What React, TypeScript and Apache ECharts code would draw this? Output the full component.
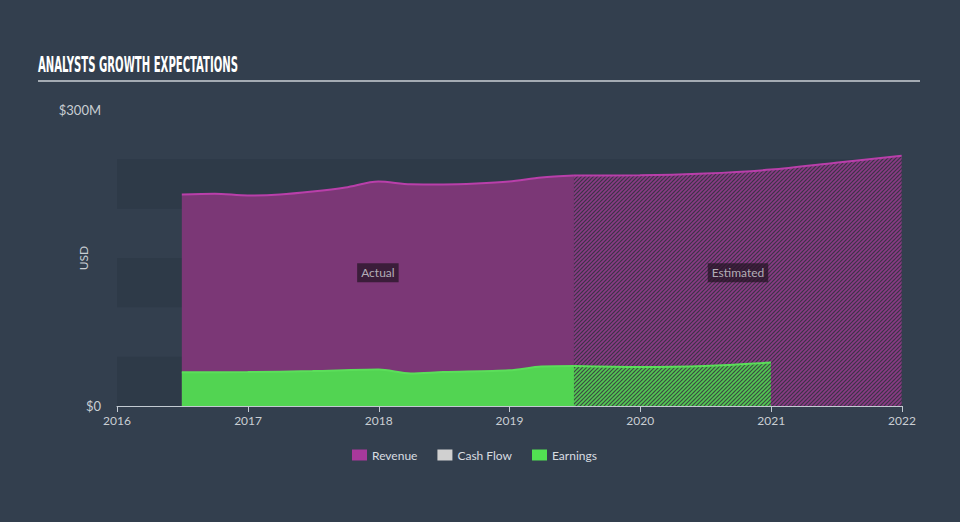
import React, { useEffect, useRef } from "react";
import * as echarts from "echarts";

const legendNames = ["Revenue", "Cash Flow", "Earnings"];

const revenueActualDates = ["2016-06-30", "2016-09-30", "2016-12-31", "2017-03-31", "2017-06-30", "2017-09-30", "2017-12-31", "2018-03-31", "2018-06-30", "2018-09-30", "2018-12-31", "2019-03-31", "2019-06-30"];
const revenueActualValues = [214.4, 215.2, 213.4, 214.4, 217.4, 221.5, 227.5, 224.8, 224.6, 225.5, 227.5, 231.5, 233.6];

const revenueEstDates = ["2019-06-30", "2019-12-31", "2020-06-30", "2020-12-31", "2021-06-30", "2021-12-31"];
const revenueEstValues = [233.6, 233.8, 235.6, 239.6, 246.6, 253.7];

const earningsActualDates = ["2016-06-30", "2016-12-31", "2017-06-30", "2017-12-31", "2018-03-31", "2018-06-30", "2018-12-31", "2019-03-31", "2019-06-30"];
const earningsActualValues = [34.2, 34.4, 35.4, 37.0, 33.0, 34.4, 36.2, 40.0, 40.6];

const earningsEstDates = ["2019-06-30", "2019-12-31", "2020-06-30", "2020-12-31"];
const earningsEstValues = [40.6, 39.6, 40.6, 44.0];

const periodLabels = ["Actual", "Estimated"];
const periodLabelValue = 135;

const yTickLabels: Record<number, string> = { 0: "$0", 300: "$300M" };
const bandRanges = [[0, 50], [100, 150], [200, 250]];

function hatch(bg: string, fg: string) {
  const c = document.createElement("canvas");
  c.width = 4;
  c.height = 4;
  const ctx = c.getContext("2d")!;
  ctx.fillStyle = bg;
  ctx.fillRect(0, 0, 4, 4);
  ctx.strokeStyle = fg;
  ctx.lineWidth = 1.6;
  ctx.beginPath();
  ctx.moveTo(-1, 5); ctx.lineTo(5, -1);
  ctx.moveTo(-1, 1); ctx.lineTo(1, -1);
  ctx.moveTo(3, 5); ctx.lineTo(5, 3);
  ctx.stroke();
  return { image: c, repeat: "repeat", imageWidth: 4, imageHeight: 4 } as any;
}

const ts = (s: string) => new Date(s + "T00:00:00").getTime();

export default function App() {
  const ref = useRef<HTMLDivElement>(null);
  useEffect(() => {
    const chart = echarts.init(ref.current!, null, { renderer: "svg" });
    const pair = (d: string[], v: number[]) => d.map((x, i) => [ts(x), v[i]]);
    const revColor = "#b93faa";
    const earnColor = "#5bde5a";
    const font = "Lato, 'Open Sans', sans-serif";
    const actualMid = (ts(revenueActualDates[0]) + ts(revenueActualDates[revenueActualDates.length - 1])) / 2;
    const estMid = (ts(revenueEstDates[0]) + ts("2022-01-01")) / 2;
    chart.setOption({
      animation: false,
      backgroundColor: "#333f4e",
      grid: { left: 117, right: 58, top: 110, bottom: 116 },
      legend: {
        data: legendNames.map((n) => ({
          name: n,
          itemStyle: { color: n === "Revenue" ? "#a8399b" : n === "Earnings" ? "#52e052" : "#d0d0d0" },
        })),
        left: 352,
        top: 449,
        padding: 0,
        itemWidth: 15,
        itemHeight: 11,
        itemGap: 20,
        icon: "rect",
        textStyle: { color: "#d9dde1", fontSize: 12, fontFamily: font },
      },
      xAxis: {
        type: "time",
        min: ts("2016-01-01"),
        max: ts("2022-01-01"),
        minInterval: 365 * 24 * 3600 * 1000,
        maxInterval: 366 * 24 * 3600 * 1000,
        axisLine: { lineStyle: { color: "#c3cad2", width: 1 } },
        axisTick: { show: true, length: 6, lineStyle: { color: "#c3cad2" } },
        splitLine: { show: false },
        axisLabel: {
          color: "#c9ced3",
          fontSize: 12,
          fontFamily: font,
          margin: 8,
          showMaxLabel: true,
          showMinLabel: true,
          formatter: (v: number) => String(new Date(v).getFullYear()),
        },
      },
      yAxis: {
        type: "value",
        min: 0,
        max: 300,
        interval: 50,
        name: "USD",
        nameLocation: "middle",
        nameRotate: 90,
        nameGap: 28,
        nameMoveOverlap: false,
        nameTextStyle: { color: "#c9ced3", fontSize: 12, fontFamily: font },
        axisLine: { show: false },
        axisTick: { show: false },
        splitLine: { show: false },
        axisLabel: {
          color: "#c9ced3",
          fontSize: 13,
          margin: 16,
          fontFamily: font,
          formatter: (v: number) => yTickLabels[v] ?? "",
        },
      },
      graphic: [
        {
          type: "text",
          left: 38,
          top: 54,
          style: {
            text: "ANALYSTS GROWTH EXPECTATIONS",
            fill: "#ffffff",
            font: "bold 21px 'DejaVu Sans Condensed', 'Liberation Sans Narrow', sans-serif",
          },
          scaleX: 0.535,
        },
        {
          type: "line",
          shape: { x1: 38, y1: 81, x2: 920, y2: 81 },
          style: { stroke: "#a4abb3", lineWidth: 2 },
        },
      ],
      series: [
        {
          name: "bands",
          type: "line",
          data: [],
          silent: true,
          z: 0,
          markArea: {
            silent: true,
            itemStyle: { color: "#2e3a48" },
            data: bandRanges.map((r) => [{ yAxis: r[0] }, { yAxis: r[1] }]),
          },
        },
        {
          name: "Revenue",
          type: "line",
          data: pair(revenueActualDates, revenueActualValues),
          smooth: 0.3,
          symbol: "none",
          lineStyle: { color: revColor, width: 2 },
          itemStyle: { color: "#a8399b" },
          areaStyle: { color: "#7b3776", opacity: 1 },
        },
        {
          name: "Revenue",
          type: "line",
          data: pair(revenueEstDates, revenueEstValues),
          smooth: 0.3,
          symbol: "none",
          lineStyle: { color: revColor, width: 2 },
          itemStyle: { color: "#a8399b" },
          areaStyle: { color: hatch("#3c3447", "#8a3a85"), opacity: 1 },
        },
        {
          name: "Cash Flow",
          type: "line",
          data: [],
          itemStyle: { color: "#d0d0d0" },
        },
        {
          name: "Earnings",
          type: "line",
          data: pair(earningsActualDates, earningsActualValues),
          smooth: 0.3,
          symbol: "none",
          lineStyle: { color: earnColor, width: 2 },
          itemStyle: { color: "#52e052" },
          areaStyle: { color: "#52d452", opacity: 1 },
        },
        {
          name: "Earnings",
          type: "line",
          data: pair(earningsEstDates, earningsEstValues),
          smooth: 0.3,
          symbol: "none",
          lineStyle: { color: earnColor, width: 2 },
          itemStyle: { color: "#52e052" },
          areaStyle: { color: hatch("#3d4a44", "#52c952"), opacity: 1 },
        },
        {
          name: "periods",
          type: "scatter",
          silent: true,
          z: 10,
          symbol: "rect",
          symbolSize: 1,
          itemStyle: { color: "rgba(0,0,0,0)" },
          data: [
            [actualMid, periodLabelValue, periodLabels[0]],
            [estMid, periodLabelValue, periodLabels[1]],
          ],
          label: {
            show: true,
            position: "inside",
            formatter: (p: any) => p.value[2],
            color: "#d4d4d8",
            fontSize: 12,
            fontFamily: font,
            backgroundColor: "rgba(36,20,36,0.92)",
            padding: [4, 4, 3, 4],
          },
        },
      ],
    });
    return () => chart.dispose();
  }, []);
  return <div ref={ref} style={{ position: "fixed", left: 0, top: 0, width: 960, height: 522 }} />;
}
